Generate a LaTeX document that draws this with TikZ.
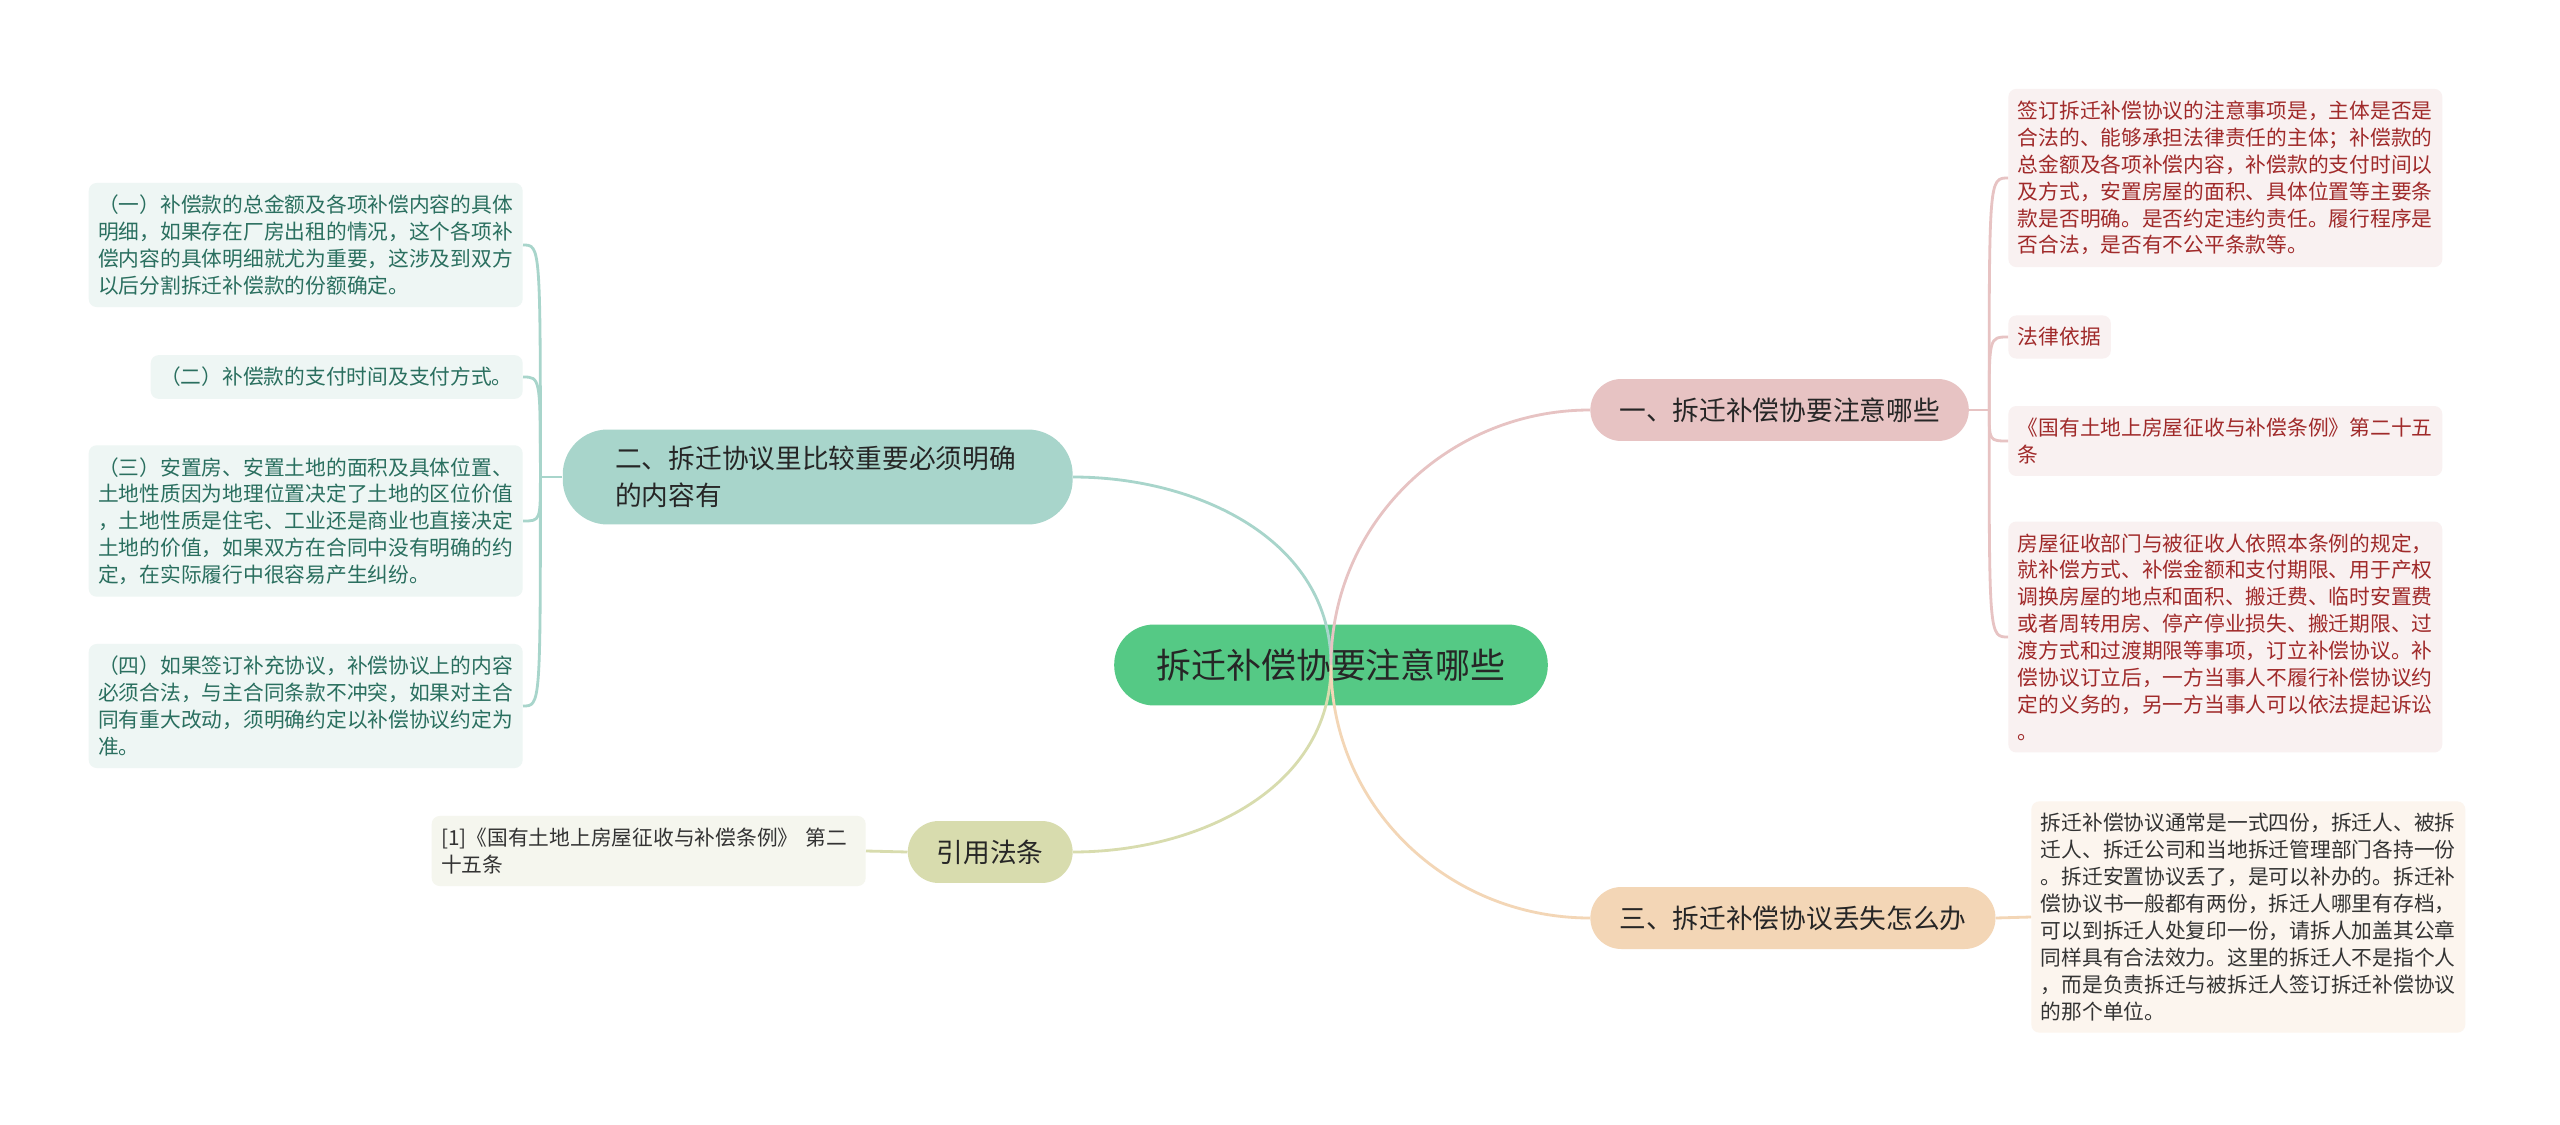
\documentclass[tikz,border=0pt]{standalone}
\usepackage{fontspec}
\setmainfont{Noto Sans CJK SC}
\usepackage{xcolor}
\usetikzlibrary{positioning}
\definecolor{rootgreen}{HTML}{55C985}
\definecolor{tealbranch}{HTML}{A8D5CB}
\definecolor{pinkbranch}{HTML}{E7C3C3}
\definecolor{peachbranch}{HTML}{F3D6B6}
\definecolor{olivebranch}{HTML}{D8DCAE}
\definecolor{tealleaf}{HTML}{EEF6F4}
\definecolor{tealtext}{HTML}{2A6F5F}
\definecolor{pinkleaf}{HTML}{F9F1F1}
\definecolor{redtext}{HTML}{A02A2A}
\definecolor{peachleaf}{HTML}{FCF5EE}
\definecolor{oliveleaf}{HTML}{F5F6EE}
\definecolor{darktext}{HTML}{333333}

\begin{document}
\begin{tikzpicture}[x=0.02cm,y=-0.02cm,
  rootbox/.style={fill=rootgreen,rounded corners=0.8cm,minimum height=1.62cm,
    inner xsep=0.84cm,text=black!85,font=\fontsize{19.9pt}{24pt}\selectfont},
  branchbox/.style={rounded corners=0.62cm,minimum height=1.24cm,inner xsep=0.58cm,
    text=black!85,font=\fontsize{15.2pt}{21pt}\selectfont},
  leafbox/.style={rounded corners=0.16cm,text width=8.3cm,align=left,
    inner xsep=0.19cm,inner ysep=0.24cm,font=\fontsize{11.8pt}{15.3pt}\selectfont},
  tealleafbox/.style={leafbox,fill=tealleaf,text=tealtext},
  pinkleafbox/.style={leafbox,fill=pinkleaf,text=redtext},
  link/.style={line width=1.6pt},
  tealline/.style={link,draw=tealbranch},
  pinkline/.style={link,draw=pinkbranch},
  peachline/.style={link,draw=peachbranch},
  oliveline/.style={link,draw=olivebranch}
]
\path[fill=white,use as bounding box] (0,0) rectangle (2560,1125);

\node[rootbox] (root) at (1331,665) {拆迁补偿协要注意哪些};

\node[branchbox,fill=pinkbranch,anchor=west] (b1) at (1590,410) {一、拆迁补偿协要注意哪些};
\node[branchbox,fill=tealbranch,anchor=east,text width=8.1cm,align=left,
  inner xsep=1.05cm,minimum height=1.9cm,rounded corners=0.9cm] (b2) at (1073,477)
  {二、拆迁协议里比较重要必须明确\\的内容有};
\node[branchbox,fill=peachbranch,anchor=west] (b3) at (1590,918) {三、拆迁补偿协议丢失怎么办};
\node[branchbox,fill=olivebranch,anchor=east] (b4) at (1073,852) {引用法条};

% left leaves
\node[tealleafbox,anchor=east] (l1) at (523,245)
  {（一）补偿款的总金额及各项补偿内容的具体\\明细，如果存在厂房出租的情况，这个各项补\\偿内容的具体明细就尤为重要，这涉及到双方\\以后分割拆迁补偿款的份额确定。};
\node[tealleafbox,anchor=east,text width=7.06cm] (l2) at (523,377)
  {（二）补偿款的支付时间及支付方式。};
\node[tealleafbox,anchor=east] (l3) at (523,521)
  {（三）安置房、安置土地的面积及具体位置、\\土地性质因为地理位置决定了土地的区位价值\\，土地性质是住宅、工业还是商业也直接决定\\土地的价值，如果双方在合同中没有明确的约\\定，在实际履行中很容易产生纠纷。};
\node[tealleafbox,anchor=east] (l4) at (523,706)
  {（四）如果签订补充协议，补偿协议上的内容\\必须合法，与主合同条款不冲突，如果对主合\\同有重大改动，须明确约定以补偿协议约定为\\准。};
\node[leafbox,fill=oliveleaf,text=darktext,anchor=east] (l5) at (866,851)
  {[1]《国有土地上房屋征收与补偿条例》 第二\\十五条};

% right leaves
\node[pinkleafbox,anchor=west] (r1) at (2008,178)
  {签订拆迁补偿协议的注意事项是，主体是否是\\合法的、能够承担法律责任的主体；补偿款的\\总金额及各项补偿内容，补偿款的支付时间以\\及方式，安置房屋的面积、具体位置等主要条\\款是否明确。是否约定违约责任。履行程序是\\否合法，是否有不公平条款等。};
\node[pinkleafbox,anchor=west,text width=1.67cm] (r2) at (2008,337) {法律依据};
\node[pinkleafbox,anchor=west] (r3) at (2008,441)
  {《国有土地上房屋征收与补偿条例》第二十五\\条};
\node[pinkleafbox,anchor=west] (r4) at (2008,637)
  {房屋征收部门与被征收人依照本条例的规定，\\就补偿方式、补偿金额和支付期限、用于产权\\调换房屋的地点和面积、搬迁费、临时安置费\\或者周转用房、停产停业损失、搬迁期限、过\\渡方式和过渡期限等事项，订立补偿协议。补\\偿协议订立后，一方当事人不履行补偿协议约\\定的义务的，另一方当事人可以依法提起诉讼\\。};
\node[leafbox,fill=peachleaf,text=darktext,anchor=west] (r5) at (2031,917)
  {拆迁补偿协议通常是一式四份，拆迁人、被拆\\迁人、拆迁公司和当地拆迁管理部门各持一份\\。拆迁安置协议丢了，是可以补办的。拆迁补\\偿协议书一般都有两份，拆迁人哪里有存档，\\可以到拆迁人处复印一份，请拆人加盖其公章\\同样具有合法效力。这里的拆迁人不是指个人\\，而是负责拆迁与被拆迁人签订拆迁补偿协议\\的那个单位。};

\coordinate[right=0.4cm of b1.east] (j1);
\coordinate[left=0.44cm of b2.west] (j2);

% root links
\draw[tealline] (root.center) to[out=90,in=0] (b2.east);
\draw[pinkline] (root.center) to[out=90,in=180] (b1.west);
\draw[oliveline] (root.center) to[out=-90,in=0] (b4.east);
\draw[peachline] (root.center) to[out=-90,in=180] (b3.west);

% leaf links
\draw[pinkline] (b1.east) -- (j1);
\foreach \n in {r1,r2,r3,r4}
  \draw[pinkline] (j1) .. controls (j1 |- \n.west) .. (\n.west);
\draw[tealline] (b2.west) -- (j2);
\foreach \n in {l1,l2,l3,l4}
  \draw[tealline] (j2) .. controls (j2 |- \n.east) .. (\n.east);
\draw[peachline] (b3.east) -- (r5.west);
\draw[oliveline] (b4.west) -- (l5.east);
\end{tikzpicture}
\end{document}
